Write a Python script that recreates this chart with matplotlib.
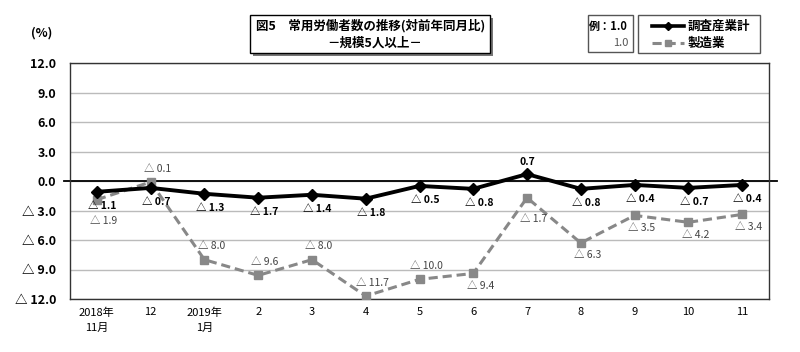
import matplotlib.pyplot as plt
from matplotlib.patches import Rectangle
from matplotlib.lines import Line2D

plt.rcParams['font.family'] = ['Noto Sans CJK JP', 'DejaVu Sans']

months = ["2018年\n11月", "12", "2019年\n1月", "2", "3", "4", "5", "6", "7", "8", "9", "10", "11"]
total = [-1.1, -0.7, -1.3, -1.7, -1.4, -1.8, -0.5, -0.8, 0.7, -0.8, -0.4, -0.7, -0.4]
manuf = [-1.9, -0.1, -8.0, -9.6, -8.0, -11.7, -10.0, -9.4, -1.7, -6.3, -3.5, -4.2, -3.4]
yticks = [12, 9, 6, 3, 0, -3, -6, -9, -12]

# label placement offsets (points): positive above the point, negative below
total_off = [-10, -10, -10, -10, -10, -10, -10, -10, 9, -10, -10, -10, -10]
manuf_off = [-15, 9.5, 9.5, 9.5, 9.5, 9.5, 9.5, -9, -15, -9, -9, -9, -9]


def fmt(v):
    return "△ %.1f" % abs(v) if v < 0 else "%.1f" % v


fig = plt.figure(figsize=(8, 3.52), dpi=100)
ax = fig.add_axes([70 / 800, 1 - 299 / 352, 699 / 800, 236 / 352])

x = list(range(len(months)))
ax.plot(x, manuf, color="#888888", lw=2.2, ls=(0, (3, 1.6)), marker="s", ms=6, label="製造業", zorder=3)
ax.plot(x, total, color="black", lw=2.8, marker="D", ms=6.5, label="調査産業計", zorder=4)
ax.plot([-0.62, 12.65], [0, 0], color="black", lw=1.3, clip_on=False, zorder=2)

for i, v in enumerate(total):
    ax.annotate(fmt(v), (i, v), xytext=(4 if v < 0 else 0, total_off[i]), textcoords="offset points",
                ha="center", va="center", fontsize=7.5, fontweight="bold", color="black")
for i, v in enumerate(manuf):
    ax.annotate(fmt(v), (i, v), xytext=(5, manuf_off[i]), textcoords="offset points",
                ha="center", va="center", fontsize=7.5, color="#444444")

ax.set_xlim(-0.5, 12.5)
ax.set_ylim(-12, 12)
ax.set_yticks(yticks)
ax.set_yticklabels([fmt(v) for v in yticks], fontsize=9, fontweight="bold")
ax.set_xticks(x)
ax.set_xticklabels(months, fontsize=8, va="top", linespacing=1.6)
ax.tick_params(length=0, pad=6)
ax.tick_params(axis="y", pad=10)
ax.grid(axis="y", color="#bbbbbb", lw=1)
ax.set_axisbelow(True)
for s in ax.spines.values():
    s.set_color("#333333")
    s.set_linewidth(1)

fig.text(42 / 800, 1 - 33 / 352, "(%)", ha="center", va="center", fontsize=9, fontweight="bold")

# title box with shadow
fig.patches.append(Rectangle((253 / 800, 1 - 56 / 352), 240 / 800, 38 / 352, transform=fig.transFigure,
                             facecolor="#777777", edgecolor="none", zorder=1))
fig.patches.append(Rectangle((250 / 800, 1 - 53 / 352), 240 / 800, 38 / 352, transform=fig.transFigure,
                             facecolor="white", edgecolor="black", lw=1, zorder=2))
fig.text(371 / 800, 1 - 26 / 352, "図5　常用労働者数の推移(対前年同月比)", ha="center", va="center",
         fontsize=9, fontweight="bold", zorder=3)
fig.text(375 / 800, 1 - 43 / 352, "－規模5人以上－", ha="center", va="center",
         fontsize=9, fontweight="bold", zorder=3)

# example box
fig.patches.append(Rectangle((588 / 800, 1 - 52 / 352), 45 / 800, 37 / 352, transform=fig.transFigure,
                             facecolor="white", edgecolor="#555555", lw=1))
fig.text(628 / 800, 1 - 26 / 352, "例：1.0", ha="right", va="center", fontsize=8, fontweight="bold")
fig.text(628 / 800, 1 - 43 / 352, "1.0", ha="right", va="center", fontsize=8, color="#555555")

# legend box
fig.patches.append(Rectangle((638 / 800, 1 - 53 / 352), 122 / 800, 38 / 352, transform=fig.transFigure,
                             facecolor="white", edgecolor="#555555", lw=1))
fig.lines.append(Line2D([652 / 800, 668 / 800, 684 / 800], [1 - 26 / 352] * 3, transform=fig.transFigure,
                        color="black", lw=2.6, marker="D", ms=4.5, markevery=[1]))
fig.lines.append(Line2D([652 / 800, 668 / 800, 684 / 800], [1 - 43 / 352] * 3, transform=fig.transFigure,
                        color="#888888", lw=2.2, ls=(0, (3, 1.6)), marker="s", ms=5, markevery=[1]))
fig.text(688 / 800, 1 - 26 / 352, "調査産業計", ha="left", va="center", fontsize=9, fontweight="bold")
fig.text(688 / 800, 1 - 43 / 352, "製造業", ha="left", va="center", fontsize=9, fontweight="bold")

fig.savefig("out.png", dpi=100)
